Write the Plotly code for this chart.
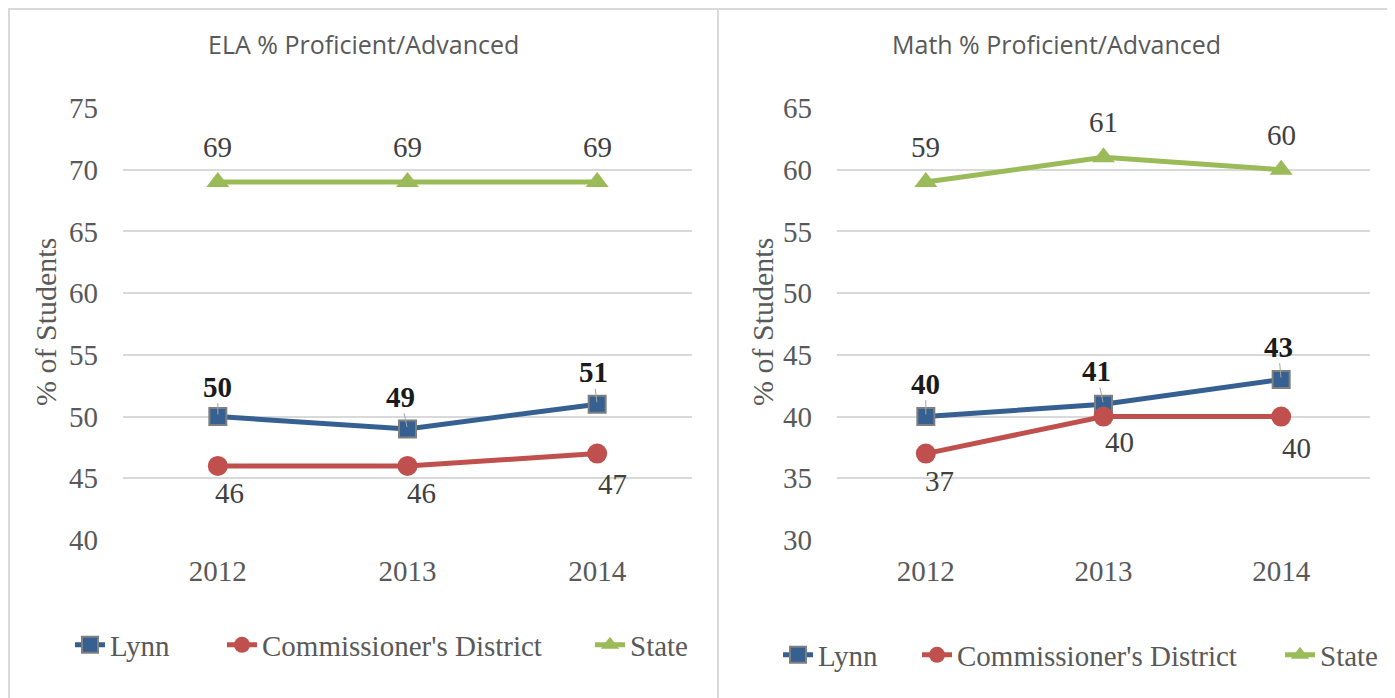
import plotly.graph_objects as go

# page body has an 8px margin: size the figure so that it fills the window
OFF = 8
W, H = 1395 - OFF, 698 - OFF


def px(x):
    return (x - OFF) / W


def py(y):
    return 1 - (y - OFF) / H


years = ["2012", "2013", "2014"]
series_names = ["Lynn", "Commissioner's District", "State"]

ela_lynn = [50, 49, 51]
ela_district = [46, 46, 47]
ela_state = [69, 69, 69]

math_lynn = [40, 41, 43]
math_district = [37, 40, 40]
math_state = [59, 61, 60]

ela_ticks = [40, 45, 50, 55, 60, 65, 70, 75]
math_ticks = [30, 35, 40, 45, 50, 55, 60, 65]

titles = ["ELA % Proficient/Advanced", "Math % Proficient/Advanced"]
ytitle = "% of Students"

colors = ["#366092", "#C0504D", "#9BBB59"]
symbols = ["square", "circle", "triangle-up"]
msizes = [17, 20, 20]

SERIF = "Liberation Serif, Times New Roman, serif"
SANS = "Open Sans, sans-serif"
GRAY = "#595959"
FS = 29

# legend text start positions (screen px) for each panel's items, and row y
legend_text_x = [[110, 262, 630], [818, 957, 1320]]
legend_y = [645, 655]

fig = go.Figure()

panels = [
    (ela_lynn, ela_district, ela_state, "x", "y"),
    (math_lynn, math_district, math_state, "x2", "y2"),
]

legend_layouts = {}
li = 0
for p, (lynn, dist, state, xa, ya) in enumerate(panels):
    for i, vals in enumerate([lynn, dist, state]):
        li += 1
        lname = "legend" if li == 1 else f"legend{li}"
        fig.add_trace(go.Scatter(
            x=years, y=vals, mode="lines+markers", name=series_names[i],
            xaxis=xa, yaxis=ya, legend=lname,
            line=dict(color=colors[i], width=5),
            marker=dict(symbol=symbols[i], size=msizes[i], color=colors[i],
                        line=dict(color="#7F7F7F" if i == 0 else colors[i],
                                  width=2 if i == 0 else 0)),
            hoverinfo="skip",
        ))
        legend_layouts[lname] = dict(
            x=px(legend_text_x[p][i] - 40), y=py(legend_y[p]),
            xanchor="left", yanchor="middle", orientation="h",
            font=dict(family=SERIF, size=FS, color=GRAY),
            bgcolor="rgba(0,0,0,0)", borderwidth=0,
        )

annotations = []
# data label offsets (style): per series, per point (xshift, yshift)
label_offsets = {
    ("x", 0): [(0, 30), (-7, 32), (-4, 32)],
    ("x", 1): [(12, -27), (14, -27), (15, -30)],
    ("x", 2): [(0, 35), (0, 35), (0, 35)],
    ("x2", 0): [(0, 33), (-7, 33), (-3, 33)],
    ("x2", 1): [(14, -27), (16, -25), (15, -31)],
    ("x2", 2): [(0, 35), (0, 35), (0, 35)],
}
label_style = [(True, "#1a1a1a"), (False, "#404040"), (False, "#404040")]

for (lynn, dist, state, xa, ya) in panels:
    data = [lynn, dist, state]
    for si in range(3):
        bold, col = label_style[si]
        for j in range(len(years)):
            v = data[si][j]
            xs, ys = label_offsets[(xa, si)][j]
            font = dict(family=SERIF, size=FS, color=col)
            txt = f"<b>{v}</b>" if bold else str(v)
            if si == 0:
                # bold labels carry a small grey leader line to their marker
                annotations.append(dict(
                    x=j, y=v, xref=xa, yref=ya, text=txt, font=font,
                    showarrow=True, ax=xs, ay=-ys, arrowhead=0,
                    arrowwidth=1, arrowcolor="#A6A6A6", standoff=2,
                    borderpad=0,
                ))
            else:
                annotations.append(dict(
                    x=j, y=v, xref=xa, yref=ya, text=txt, font=font,
                    showarrow=False, xshift=xs, yshift=ys,
                ))

# panel titles
for t, cx in zip(titles, [363, 1056]):
    annotations.append(dict(
        x=px(cx), y=py(44), xref="paper", yref="paper", text=t,
        showarrow=False, xanchor="center", yanchor="middle",
        font=dict(family=SANS, size=25, color=GRAY),
    ))
# y-axis titles
for cx in [45, 762]:
    annotations.append(dict(
        x=px(cx), y=py(322), xref="paper", yref="paper", text=ytitle,
        showarrow=False, xanchor="center", yanchor="middle", textangle=-90,
        font=dict(family=SERIF, size=30, color=GRAY),
    ))

BORDER = dict(color="#D9D9D9", width=2)
shapes = [
    dict(type="rect", xref="paper", yref="paper", x0=1 / W, x1=px(718),
         y0=-0.05, y1=1 - 1 / H, line=BORDER, layer="below"),
    dict(type="rect", xref="paper", yref="paper", x0=px(718), x1=px(1393),
         y0=-0.05, y1=1 - 1 / H, line=BORDER, layer="below"),
]

ydom = [py(540), py(108)]
xcommon = dict(type="category", range=[-0.5, 2.5], showgrid=False, showline=False,
               zeroline=False, ticks="", ticklabelstandoff=11, automargin=False,
               tickfont=dict(family=SERIF, size=FS, color=GRAY))


def ycommon(ticks):
    return dict(range=[ticks[0], ticks[-1]], tickvals=ticks, showgrid=True,
                gridcolor="#D9D9D9", gridwidth=1.5, zeroline=False, showline=False,
                ticks="", ticklabelstandoff=24, automargin=False,
                tickfont=dict(family=SERIF, size=FS, color=GRAY))


fig.update_layout(
    width=W, height=H,
    margin=dict(l=0, r=0, t=0, b=0, autoexpand=False),
    paper_bgcolor="white", plot_bgcolor="white",
    xaxis=dict(domain=[px(123), px(692)], anchor="y", **xcommon),
    yaxis=dict(domain=ydom, anchor="x", **ycommon(ela_ticks)),
    xaxis2=dict(domain=[px(837), px(1370)], anchor="y2", **xcommon),
    yaxis2=dict(domain=ydom, anchor="x2", **ycommon(math_ticks)),
    annotations=annotations,
    shapes=shapes,
    showlegend=True,
    **legend_layouts,
)

fig.write_html("out.html")
